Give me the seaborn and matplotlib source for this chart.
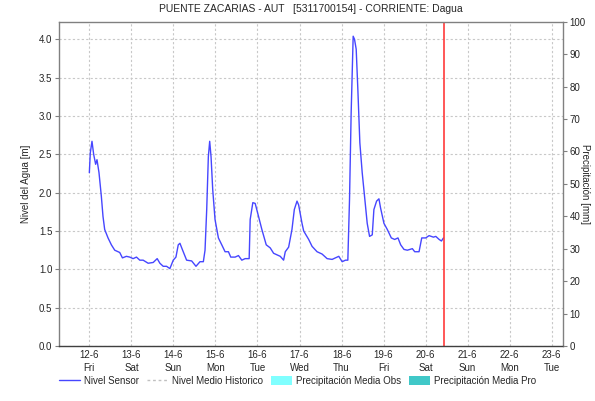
import numpy as np
import pandas as pd
import seaborn as sns
import matplotlib.pyplot as plt
from matplotlib.lines import Line2D
from matplotlib.patches import Patch

# days since 12-6 00:00 and water level [m]
dias = [0.0, 0.023, 0.063, 0.103, 0.150, 0.182, 0.230, 0.286, 0.325, 0.365, 0.445, 0.524,
        0.604, 0.723, 0.787, 0.882, 0.962, 1.041, 1.121, 1.200, 1.280, 1.399, 1.519, 1.614,
        1.678, 1.757, 1.837, 1.916, 1.996, 2.060, 2.115, 2.155, 2.219, 2.314, 2.434, 2.537,
        2.632, 2.712, 2.752, 2.792, 2.831, 2.863, 2.895, 2.935, 2.990, 3.070, 3.150, 3.229,
        3.309, 3.364, 3.468, 3.547, 3.627, 3.706, 3.802, 3.826, 3.889, 3.945, 4.025, 4.104,
        4.208, 4.303, 4.383, 4.462, 4.542, 4.621, 4.661, 4.741, 4.820, 4.876, 4.940, 4.979,
        5.059, 5.099, 5.218, 5.298, 5.417, 5.536, 5.656, 5.775, 5.854, 5.934, 6.014, 6.093,
        6.149, 6.189, 6.228, 6.276, 6.308, 6.348, 6.387, 6.435, 6.491, 6.547, 6.610, 6.666,
        6.730, 6.769, 6.833, 6.889, 6.928, 7.008, 7.088, 7.183, 7.263, 7.342, 7.406, 7.485,
        7.565, 7.684, 7.740, 7.843, 7.907, 8.002, 8.082, 8.185, 8.241, 8.321, 8.376, 8.424]
nivel = [2.26, 2.52, 2.67, 2.50, 2.37, 2.43, 2.26, 1.95, 1.69, 1.52, 1.41, 1.32,
         1.25, 1.22, 1.15, 1.17, 1.16, 1.14, 1.16, 1.12, 1.12, 1.08, 1.09, 1.14,
         1.08, 1.04, 1.04, 1.01, 1.12, 1.16, 1.32, 1.34, 1.25, 1.12, 1.11, 1.04,
         1.10, 1.10, 1.25, 1.78, 2.47, 2.67, 2.47, 2.04, 1.65, 1.41, 1.32, 1.23,
         1.23, 1.16, 1.16, 1.18, 1.12, 1.14, 1.14, 1.65, 1.87, 1.86, 1.69, 1.52,
         1.32, 1.28, 1.21, 1.19, 1.17, 1.12, 1.23, 1.29, 1.52, 1.78, 1.89, 1.84,
         1.60, 1.50, 1.39, 1.30, 1.23, 1.20, 1.14, 1.13, 1.15, 1.17, 1.10, 1.12,
         1.12, 1.91, 3.04, 4.04, 4.00, 3.87, 3.35, 2.65, 2.26, 1.95, 1.60, 1.43,
         1.45, 1.78, 1.89, 1.92, 1.80, 1.60, 1.52, 1.41, 1.39, 1.41, 1.32, 1.26,
         1.25, 1.27, 1.23, 1.23, 1.41, 1.41, 1.44, 1.42, 1.43, 1.39, 1.37, 1.41]

fechas = ["12-6", "13-6", "14-6", "15-6", "16-6", "17-6", "18-6", "19-6", "20-6", "21-6", "22-6", "23-6"]
dias_sem = ["Fri", "Sat", "Sun", "Mon", "Tue", "Wed", "Thu", "Fri", "Sat", "Sun", "Mon", "Tue"]
ahora = 8.44  # current time marker

df = pd.DataFrame({"dia": dias, "nivel": nivel})

sns.set_style("white")
plt.rcParams['font.family'] = ['Liberation Sans', 'DejaVu Sans']
plt.rcParams['font.size'] = 7

fig = plt.figure(figsize=(5.95, 4.01), dpi=100)
ax = fig.add_axes([0.0997, 0.137, 0.846, 0.809])

sns.lineplot(data=df, x="dia", y="nivel", ax=ax, color="#4646ff", linewidth=1.0)
ax.axvline(ahora, color="#ff3b3b", linewidth=1.2)

ax.set_xlim(-0.714, 11.26)
ax.set_ylim(0, 4.23)
ax.set_xticks(range(len(fechas)))
ax.set_xticklabels([f + "\n" + d for f, d in zip(fechas, dias_sem)], linespacing=1.3)
ax.set_yticks(np.arange(0, 4.01, 0.5))
ax.set_yticklabels(["%.1f" % v for v in np.arange(0, 4.01, 0.5)])
ax.grid(True, color="#c8c8c8", linestyle=(0, (2, 2)), linewidth=0.8)
ax.set_xlabel("")
ax.set_ylabel("Nivel del Agua [m]", fontsize=7, labelpad=6)
ax.tick_params(axis="y", length=3, width=0.8, color="#808080", pad=2)
ax.tick_params(axis="x", length=0, pad=3)
for s in ["left", "top", "right"]:
    ax.spines[s].set_color("#808080")
    ax.spines[s].set_linewidth(1.0)
ax.spines["bottom"].set_color("#404040")
ax.spines["bottom"].set_linestyle((0, (1, 1)))
ax.spines["bottom"].set_linewidth(1.0)

ax2 = ax.twinx()
ax2.set_ylim(0, 100)
ax2.set_yticks(range(0, 101, 10))
ax2.tick_params(axis="y", length=3, width=0.8, color="#808080", pad=2)
for s in ["left", "top", "right", "bottom"]:
    ax2.spines[s].set_visible(False)
fig.text(0.983, 0.54, "Precipitación [mm]", rotation=270, fontsize=7, ha="center", va="center")

ax.set_title("PUENTE ZACARIAS - AUT   [5311700154] - CORRIENTE: Dagua", fontsize=7.5, pad=7)

handles = [Line2D([], [], color="#4646ff", linewidth=1.0),
           Line2D([], [], color="#c0c0c0", linestyle=(0, (2, 2)), linewidth=1.0),
           Patch(facecolor="#80ffff", edgecolor="none"),
           Patch(facecolor="#40c8c8", edgecolor="none")]
labels = ["Nivel Sensor", "Nivel Medio Historico", "Precipitación Media Obs", "Precipitación Media Pro"]
fig.legend(handles, labels, loc="center", bbox_to_anchor=(0.5, 0.05), ncol=4, frameon=False,
           fontsize=7, handlelength=2.2, handleheight=1.0, handletextpad=0.4, columnspacing=0.8)

fig.savefig("out.png", dpi=100)
